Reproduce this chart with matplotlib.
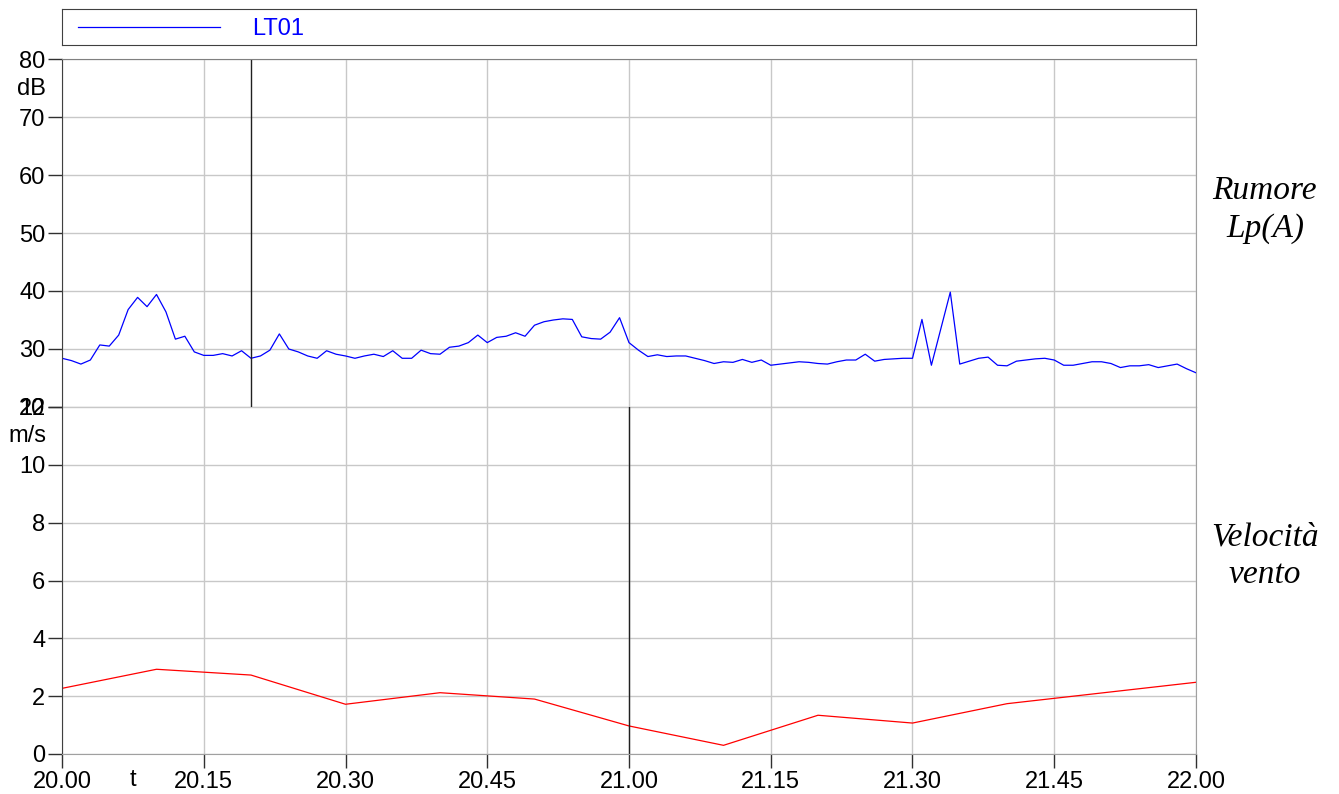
import matplotlib.pyplot as plt
from matplotlib.lines import Line2D

plt.rcParams['font.family'] = ['Liberation Sans', 'DejaVu Sans']

# time in minutes after 20.00
minutes_lt01 = list(range(0, 121))
lt01_db = [28.4, 28.0, 27.4, 28.1, 30.7, 30.5, 32.4, 36.8, 38.9, 37.3,
           39.4, 36.4, 31.7, 32.2, 29.5, 28.9, 28.9, 29.2, 28.8, 29.7,
           28.4, 28.8, 29.8, 32.6, 30.0, 29.5, 28.8, 28.4, 29.7, 29.1,
           28.8, 28.4, 28.8, 29.1, 28.7, 29.7, 28.4, 28.4, 29.8, 29.2,
           29.1, 30.3, 30.5, 31.1, 32.4, 31.1, 32.0, 32.2, 32.8, 32.2,
           34.1, 34.7, 35.0, 35.2, 35.1, 32.1, 31.8, 31.7, 32.9, 35.4,
           31.1, 29.8, 28.7, 29.0, 28.7, 28.8, 28.8, 28.4, 28.0, 27.5,
           27.8, 27.7, 28.2, 27.7, 28.1, 27.2, 27.4, 27.6, 27.8, 27.7,
           27.5, 27.4, 27.8, 28.1, 28.1, 29.1, 27.9, 28.2, 28.3, 28.4,
           28.4, 35.1, 27.2, 33.5, 39.8, 27.4, 27.9, 28.4, 28.6, 27.2,
           27.1, 27.9, 28.1, 28.3, 28.4, 28.1, 27.2, 27.2, 27.5, 27.8,
           27.8, 27.5, 26.8, 27.1, 27.1, 27.3, 26.8, 27.1, 27.4, 26.6,
           25.9]

minutes_wind = [0, 10, 20, 30, 40, 50, 60, 70, 80, 90, 100, 110, 120]
wind_ms = [2.27, 2.93, 2.73, 1.72, 2.12, 1.90, 0.97, 0.30, 1.34, 1.07, 1.74, 2.11, 2.48]

xticks = [0, 15, 30, 45, 60, 75, 90, 105, 120]
xtick_labels = ['20.00', '20.15', '20.30', '20.45', '21.00', '21.15', '21.30', '21.45', '22.00']

cursor_top = 20      # 20.20
cursor_bottom = 60   # 21.00

W, H = 1339, 794
fig = plt.figure(figsize=(W / 100, H / 100), dpi=100)

left = 62 / W
width = 1134 / W
ax1 = fig.add_axes([left, 1 - 407 / H, width, 348 / H])
ax2 = fig.add_axes([left, 1 - 754 / H, width, 347 / H])
axl = fig.add_axes([left, 1 - 45 / H, width, 36 / H])

fs = 17
grid_c = '#c8c8c8'
for ax in (ax1, ax2):
    ax.set_xlim(0, 120)
    ax.set_xticks(xticks)
    ax.grid(True, color=grid_c, linewidth=1.0)
    ax.set_axisbelow(True)
    ax.tick_params(axis='y', length=10, width=1, pad=2, labelsize=fs, color='#303030')
    ax.spines['left'].set_color('#404040')
    ax.spines['right'].set_color('#a0a0a0')
    ax.spines['top'].set_color('#808080')
    ax.spines['bottom'].set_color('#a0a0a0')

# top panel: noise
ax1.plot(minutes_lt01, lt01_db, color='#0000ff', linewidth=0.9)
ax1.axvline(cursor_top, color='#202020', linewidth=1.0)
ax1.set_ylim(20, 80)
ax1.set_yticks([20, 30, 40, 50, 60, 70, 80])
ax1.tick_params(axis='x', length=0, labelbottom=False)
ax1.spines['bottom'].set_color('#808080')
ax1.text(-0.014, 0.915, 'dB', transform=ax1.transAxes, ha='right', va='center', fontsize=fs)

# bottom panel: wind speed
ax2.plot(minutes_wind, wind_ms, color='#ff0000', linewidth=0.9)
ax2.axvline(cursor_bottom, color='#202020', linewidth=1.0)
ax2.set_ylim(0, 12)
ax2.set_yticks([0, 2, 4, 6, 8, 10, 12])
ax2.set_xticklabels(xtick_labels)
ax2.tick_params(axis='x', length=10, width=1, pad=2, labelsize=fs, color='#303030')
ax2.spines['top'].set_visible(False)
ax2.text(-0.014, 0.915, 'm/s', transform=ax2.transAxes, ha='right', va='center', fontsize=fs)
ax2.text(7.5, -0.075, 't', transform=ax2.get_xaxis_transform(), ha='center', va='center', fontsize=fs)

# right side labels
serif = ['Liberation Serif', 'DejaVu Serif']
fig.text(1265 / W, 1 - 210 / H, 'Rumore\nLp(A)', ha='center', va='center', fontsize=24,
         style='italic', family=serif, linespacing=1.3)
fig.text(1265 / W, 1 - 556 / H, 'Velocità\nvento', ha='center', va='center', fontsize=24,
         style='italic', family=serif, linespacing=1.3)

# legend box
axl.set_xticks([])
axl.set_yticks([])
for s in axl.spines.values():
    s.set_color('#404040')
handle = Line2D([], [], color='#0000ff', linewidth=0.9)
axl.legend([handle], ['LT01'], loc='center left', bbox_to_anchor=(0.014, 0.45),
           frameon=False, fontsize=fs, labelcolor='#0000ff', handlelength=6.0,
           handletextpad=1.4, borderpad=0, borderaxespad=0)

fig.savefig('out.png', dpi=100)
